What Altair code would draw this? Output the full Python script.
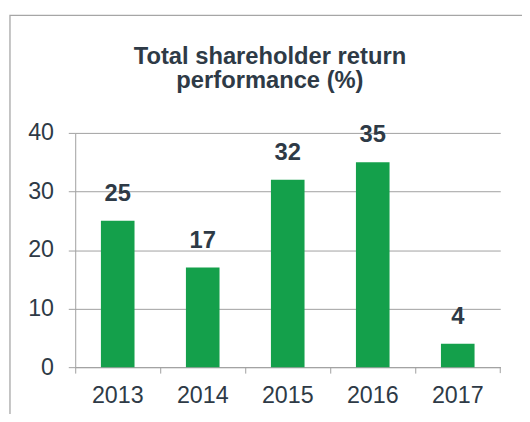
import altair as alt
import pandas as pd

years = ["2013", "2014", "2015", "2016", "2017"]
tsr = [25, 17, 32, 35, 4]
y_ticks = [0, 10, 20, 30, 40]
title_lines = ["Total shareholder return", "performance (%)"]

df = pd.DataFrame({"year": years, "tsr": tsr})
one = pd.DataFrame({"k": [0]})

FONT = "Liberation Sans"
TEXT = "#2E3A46"
GRID = "#A0A0A0"
GREEN = "#14A04B"

W, H = 430, 237

x = alt.X("year:N", sort=years, title=None,
          scale=alt.Scale(paddingInner=0, paddingOuter=0),
          axis=alt.Axis(labelAngle=0, bandPosition=0,
                        tickSize=6, labelPadding=11, grid=False,
                        domainColor=GRID, tickColor=GRID,
                        labelFont=FONT, labelFontSize=23.5, labelColor=TEXT))
y = alt.Y("tsr:Q", title=None,
          scale=alt.Scale(domain=[0, 40], nice=False),
          axis=alt.Axis(values=y_ticks, tickSize=7, labelPadding=15,
                        grid=True, gridColor=GRID, domainColor=GRID,
                        tickColor=GRID, labelFont=FONT, labelFontSize=23.5,
                        labelColor=TEXT))

border = alt.Chart(one).mark_rect(fillOpacity=0, stroke="#A6A6A6",
                                  strokeWidth=1.3, clip=False).encode(
    x=alt.value(-66), x2=alt.value(W + 200),
    y=alt.value(-119), y2=alt.value(H + 200))

title1 = alt.Chart(one).mark_text(
    font=FONT, fontSize=24, fontWeight="bold", color=TEXT,
    baseline="alphabetic", align="center", text=title_lines[0]).encode(
    x=alt.value(197), y=alt.value(-70))
title2 = alt.Chart(one).mark_text(
    font=FONT, fontSize=24, fontWeight="bold", color=TEXT,
    baseline="alphabetic", align="center", text=title_lines[1]).encode(
    x=alt.value(197), y=alt.value(-45))

bars = alt.Chart(df).mark_bar(size=34, color=GREEN).encode(x=x, y=y)

labels = alt.Chart(df).mark_text(font=FONT, fontSize=24, fontWeight="bold",
                                 color=TEXT, baseline="alphabetic",
                                 dy=-20).encode(
    x=alt.X("year:N", sort=years), y="tsr:Q", text="tsr:Q")

last_tick = alt.Chart(one).mark_rule(color=GRID).encode(
    x=alt.value(W), y=alt.value(H), y2=alt.value(H + 6))

chart = alt.layer(border, title1, title2, bars, labels, last_tick).properties(
    width=W, height=H,
    autosize=alt.AutoSizeParams(type="none"),
    padding={"left": 68, "top": 124, "right": 22, "bottom": 45},
).configure_view(stroke=None)

chart.save("out.html", embed_options={"renderer": "svg", "actions": False})
